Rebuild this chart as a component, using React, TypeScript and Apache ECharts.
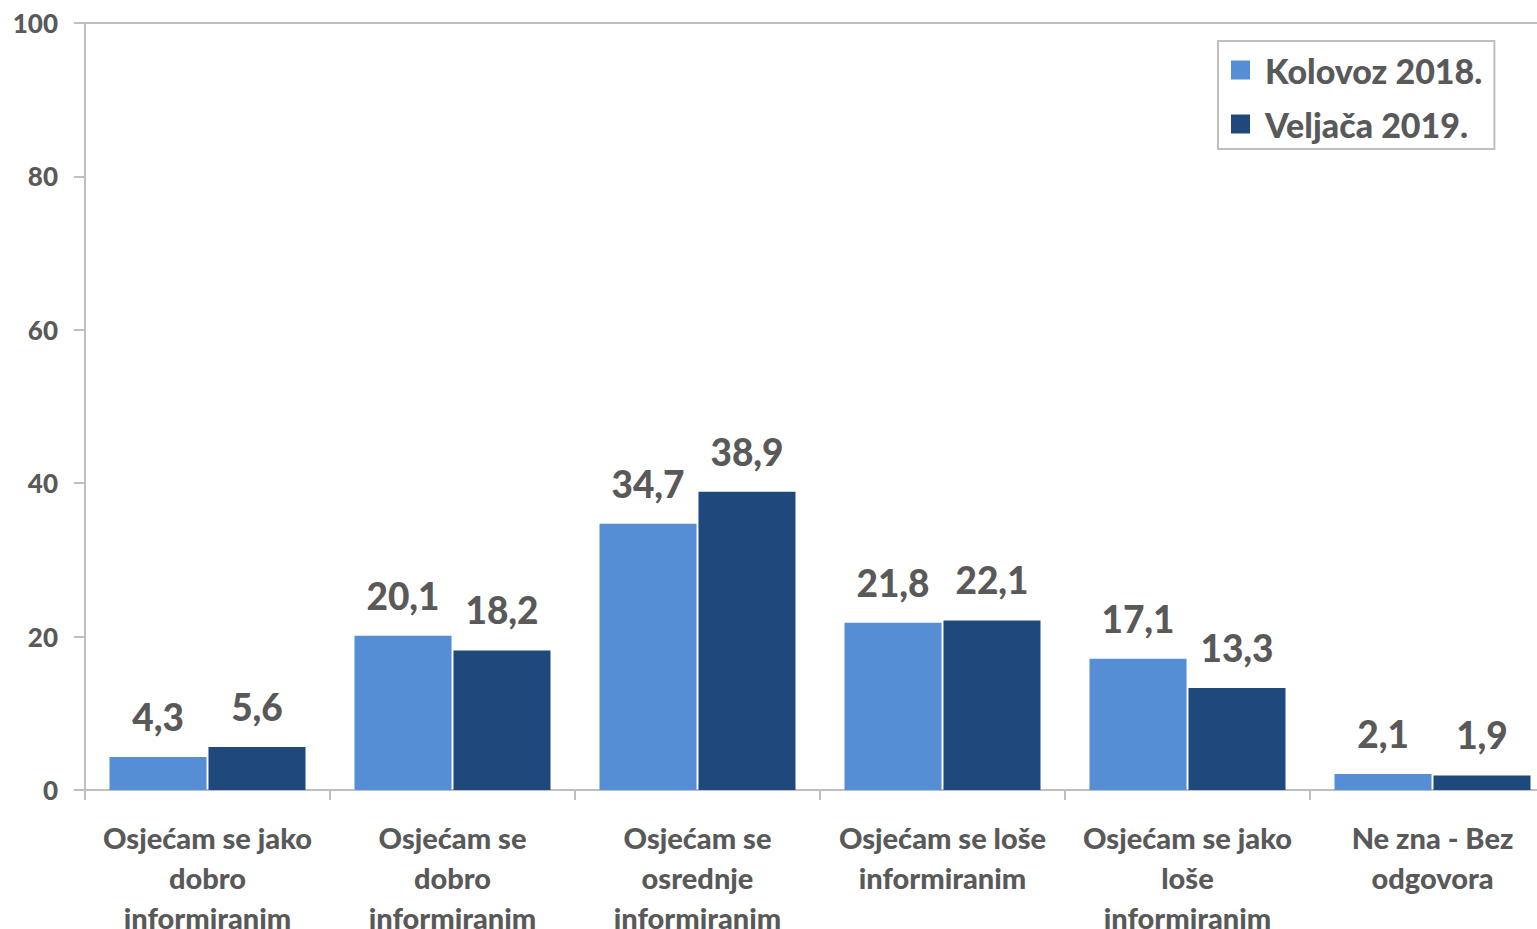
import React, { useEffect, useRef } from "react";
import * as echarts from "echarts";

const categories = [
  "Osjećam se jako\ndobro\ninformiranim",
  "Osjećam se\ndobro\ninformiranim",
  "Osjećam se\nosrednje\ninformiranim",
  "Osjećam se loše\ninformiranim",
  "Osjećam se jako\nloše\ninformiranim",
  "Ne zna - Bez\nodgovora",
];
const seriesNames = ["Kolovoz 2018.", "Veljača 2019."];
const kolovoz2018 = [4.3, 20.1, 34.7, 21.8, 17.1, 2.1];
const veljaca2019 = [5.6, 18.2, 38.9, 22.1, 13.3, 1.9];
const colors = ["#558ED5", "#1F497D"];

const TEXT = "#595959";
const AXIS = "#BFBFBF";
const FONT = "Lato";
const WEIGHT = 900;

export default function App() {
  const ref = useRef<HTMLDivElement>(null);
  useEffect(() => {
    if (!ref.current) return;
    const chart = echarts.init(ref.current, undefined, { renderer: "svg" });
    const label = {
      show: true,
      position: "top",
      distance: 22,
      color: TEXT,
      fontFamily: FONT,
      fontWeight: WEIGHT,
      fontSize: 37,
      formatter: (p: any) => String(p.value).replace(".", ","),
    };
    chart.setOption({
      animation: false,
      backgroundColor: "#fff",
      textStyle: { fontFamily: FONT },
      legend: {
        orient: "vertical",
        left: 1218,
        top: 41,
        padding: [12, 12, 8, 13],
        itemGap: 20,
        itemWidth: 19,
        itemHeight: 19,
        borderColor: AXIS,
        borderWidth: 2,
        icon: "rect",
        textStyle: {
          color: TEXT,
          fontFamily: FONT,
          fontWeight: WEIGHT,
          fontSize: 34,
          lineHeight: 34,
          padding: [0, 0, 0, 10],
        },
        data: seriesNames,
      },
      grid: {
        left: 85,
        top: 23,
        bottom: 139,
        right: 5,
        containLabel: false,
        outerBoundsMode: "none",
      },
      xAxis: [
        {
          type: "category",
          data: categories,
          axisLine: { show: true, lineStyle: { color: AXIS, width: 2 } },
          axisTick: { show: true, length: 10, lineStyle: { color: AXIS, width: 2 } },
          axisLabel: {
            interval: 0,
            margin: 27,
            color: TEXT,
            fontFamily: FONT,
            fontWeight: WEIGHT,
            fontSize: 29,
            lineHeight: 40,
          },
        },
        {
          type: "category",
          data: categories,
          position: "top",
          axisLine: { show: true, lineStyle: { color: AXIS, width: 2 } },
          axisTick: { show: false },
          axisLabel: { show: false },
        },
      ],
      yAxis: {
        type: "value",
        min: 0,
        max: 100,
        interval: 20,
        axisLine: { show: true, lineStyle: { color: AXIS, width: 2 } },
        axisTick: { show: true, length: 11, lineStyle: { color: AXIS, width: 2 } },
        splitLine: { show: false },
        axisLabel: {
          margin: 27,
          color: TEXT,
          fontFamily: FONT,
          fontWeight: WEIGHT,
          fontSize: 26,
        },
      },
      series: [
        {
          name: seriesNames[0],
          type: "bar",
          data: kolovoz2018,
          barGap: "2%",
          barCategoryGap: "20%",
          itemStyle: { color: colors[0] },
          label,
        },
        {
          name: seriesNames[1],
          type: "bar",
          data: veljaca2019,
          barGap: "2%",
          barCategoryGap: "20%",
          itemStyle: { color: colors[1] },
          label,
        },
      ],
    });
    return () => chart.dispose();
  }, []);
  return (
    <div
      style={{
        position: "absolute",
        left: 0,
        top: 0,
        width: 1537,
        height: 929,
        overflow: "hidden",
        background: "#fff",
      }}
    >
      <div ref={ref} style={{ width: 1560, height: 929 }} />
    </div>
  );
}
